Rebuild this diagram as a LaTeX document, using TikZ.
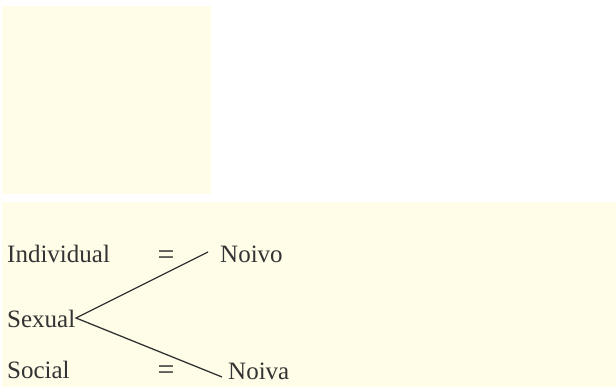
\documentclass[tikz,border=0pt]{standalone}
\usepackage{fontspec}
\setmainfont{Liberation Serif}
\definecolor{cream}{HTML}{FFFDE8}
\definecolor{ink}{HTML}{333333}
\begin{document}
\begin{tikzpicture}[x=1pt,y=1pt,
  lbl/.style={anchor=base west,inner sep=0pt,font=\fontsize{25}{30}\selectfont,text=ink},
  eqs/.style={inner sep=0pt,font=\fontsize{30}{34}\selectfont,text=ink},
  branch/.style={draw=ink,line width=1.3pt}]
\useasboundingbox (0,0) rectangle (616,-387);
\fill[cream] (2,-6) rectangle (211,-194);
\fill[cream] (2,-202) rectangle (616,-387);
\node[lbl] (ind) at (7,-263) {Individual};
\node[lbl] (sex) at (7,-328) {Sexual};
\node[lbl] (soc) at (7,-378) {Social};
\node[lbl] (noivo) at (220,-263) {Noivo};
\node[lbl] (noiva) at (228,-380) {Noiva};
\node[eqs] (eq1) at (166,-257.5) {=};
\node[eqs] (eq2) at (166,-372.5) {=};
\coordinate (v) at (76,-318);
\coordinate (top) at (208,-252);
\coordinate (bot) at (222,-377);
\draw[branch] (top) -- (v) -- (bot);
\end{tikzpicture}
\end{document}
